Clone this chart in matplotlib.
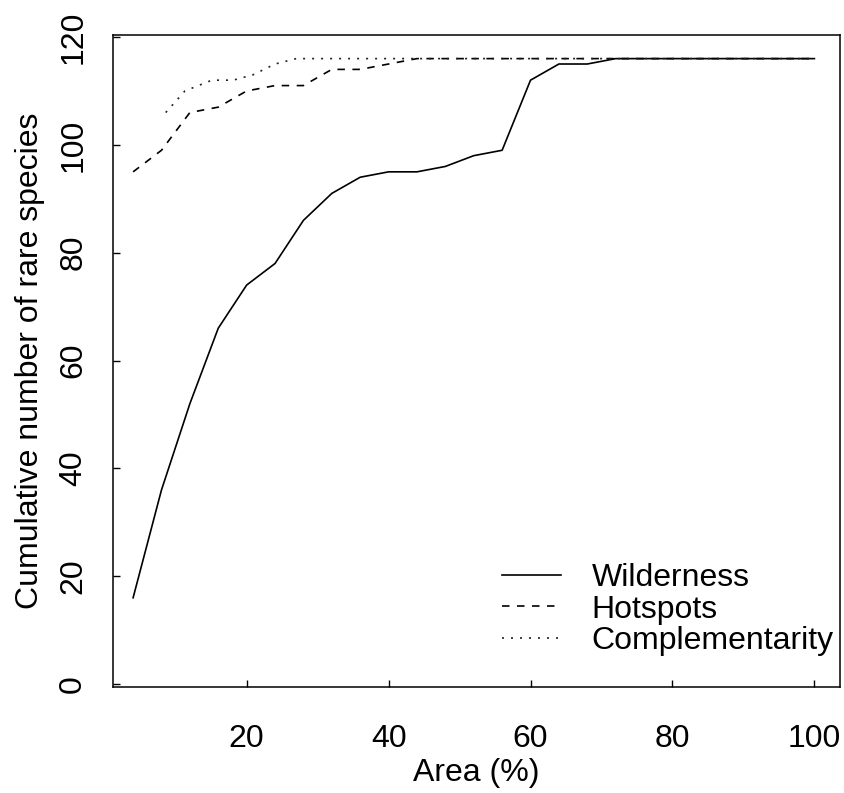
import matplotlib
matplotlib.use('Agg')
import matplotlib.pyplot as plt
import numpy as np

# data
area = [4, 8, 12, 16, 20, 24, 28, 32, 36, 40, 44, 48, 52,
        56, 60, 64, 68, 72, 76, 80, 84, 88, 92, 96, 100]
wilderness = [16, 36, 52, 66, 74, 78, 86, 91, 94, 95, 95, 96, 98,
              99, 112, 115, 115, 116, 116, 116, 116, 116, 116, 116, 116]
hotspots = [95, 99, 106, 107, 110, 111, 111, 114, 114, 115, 116, 116, 116,
            116, 116, 116, 116, 116, 116, 116, 116, 116, 116, 116, 116]
comp_area = [8.6, 11.3, 15.1, 18.1, 20.9, 24.0, 27.0, 40, 60, 80, 100]
complementarity = [106, 110, 112, 112, 113, 115, 116, 116, 116, 116, 116]

plt.rcParams['font.family'] = ['Liberation Sans', 'DejaVu Sans']
fontsize = 23

fig = plt.figure(figsize=(8.45, 7.93), dpi=100)
ax = fig.add_axes([0.134, 0.134, 0.860, 0.822])

lw = 1.2
ax.plot(area, wilderness, c='k', lw=lw, label='Wilderness')
ax.plot(area, hotspots, c='k', lw=lw, dashes=(4.5, 4.5), label='Hotspots')
ax.plot(comp_area, complementarity, c='#222222', lw=lw, dashes=(1.2, 4.2),
        label='Complementarity')

ax.set_xlim(1.2, 103.6)
ax.set_ylim(-0.5, 120.4)
ax.set_xticks([20, 40, 60, 80, 100])
ax.set_yticks(np.arange(0, 121, 20))
ax.tick_params(direction='in', length=5, width=1, labelsize=fontsize)
ax.tick_params(axis='y', pad=18)
ax.tick_params(axis='x', pad=27)
for lab in ax.get_yticklabels():
    lab.set_rotation(90)
    lab.set_va('center')
for sp in ax.spines.values():
    sp.set_linewidth(1.1)

ax.set_xlabel('Area (%)', fontsize=fontsize)
ax.set_ylabel('Cumulative number of rare species', fontsize=fontsize)
ax.xaxis.set_label_coords(0.5, -0.11)
ax.yaxis.set_label_coords(-0.094, 0.5)

ax.legend(loc='upper left', bbox_to_anchor=(502 / 845, 1 - 563 / 793),
          bbox_transform=fig.transFigure, frameon=False, fontsize=fontsize,
          handlelength=1.85, handletextpad=0.95, labelspacing=0.05, borderpad=0,
          borderaxespad=0)

plt.savefig('out.png', dpi=100)
